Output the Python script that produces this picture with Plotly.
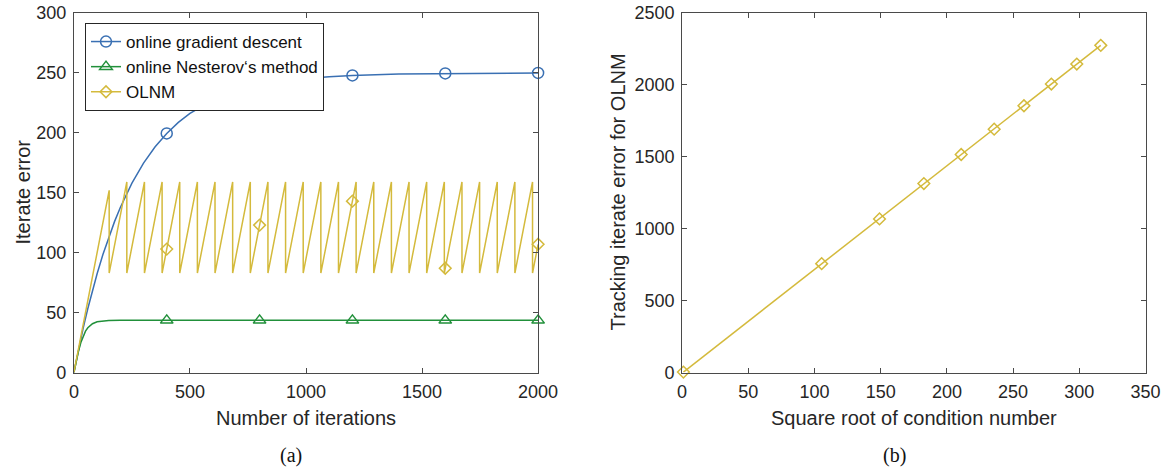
import plotly.graph_objects as go

# ---------------- data: panel (a) ----------------
ogd_iter = [0, 20, 40, 60, 80, 100, 125, 150, 175, 200, 250, 300, 350, 400, 450, 500,
            600, 700, 800, 900, 1000, 1100, 1200, 1400, 1600, 1800, 2000]
ogd_err = [0, 19.2, 37.0, 53.4, 68.5, 82.4, 98.4, 112.8, 125.9, 137.7, 158.0, 174.7, 188.4,
           199.5, 208.7, 216.2, 227.3, 234.8, 239.8, 243.2, 245.4, 246.9, 247.9, 249.1,
           249.6, 249.8, 250.0]

onm_iter = [0, 10, 20, 30, 40, 50, 60, 70, 80, 100, 125, 150, 200, 400, 800, 1200, 1600, 2000]
onm_err = [0, 9.5, 18.0, 25.0, 30.5, 34.5, 37.3, 39.3, 40.7, 42.3, 43.1, 43.4, 43.5,
           43.5, 43.5, 43.5, 43.5, 43.5]

# OLNM restarts: iterate where error peaks, peak value, value right after restart
olnm_restart_iter = [152, 228, 304, 380, 456, 532, 608, 684, 760, 836, 912, 988, 1064,
                     1140, 1216, 1292, 1368, 1444, 1520, 1596, 1672, 1748, 1824, 1900, 1976]
olnm_peak_err = [152, 159, 159, 159, 159, 159, 159, 159, 159, 159, 159, 159, 159,
                 159, 159, 159, 159, 159, 159, 159, 159, 159, 159, 159, 159]
olnm_reset_err = [83, 83, 83, 83, 83, 83, 83, 83, 83, 83, 83, 83, 83,
                  83, 83, 83, 83, 83, 83, 83, 83, 83, 83, 83, 83]
olnm_start = (0, 0)
olnm_end = (2000, 107)

marker_iter = [400, 800, 1200, 1600, 2000]
ogd_marker_err = [199.5, 239.8, 247.9, 249.6, 250.0]
onm_marker_err = [43.5, 43.5, 43.5, 43.5, 43.5]
olnm_marker_err = [103, 123, 143, 87, 107]

# ---------------- data: panel (b) ----------------
sqrt_cond = [1, 105.4, 149.1, 182.6, 210.8, 235.7, 258.2, 278.9, 298.1, 316.2]
track_err = [3, 757, 1068, 1314, 1516, 1692, 1855, 2006, 2145, 2275]

# ---------------- styling ----------------
W, H = 1165, 467
BLUE = "#3A70B3"
GREEN = "#21903A"
YELLOW = "#D4BA3C"
AXC = "#4a4a4a"
TXT = "#262626"
FONT = "Liberation Sans, Arial, Helvetica, sans-serif"


def fx(p):
    return p / W


def fy(p):
    return 1 - p / H


# build OLNM sawtooth vertices from the restart table
olnm_x = [olnm_start[0]]
olnm_y = [olnm_start[1]]
for it, pk, rs in zip(olnm_restart_iter, olnm_peak_err, olnm_reset_err):
    olnm_x += [it, it]
    olnm_y += [pk, rs]
olnm_x.append(olnm_end[0])
olnm_y.append(olnm_end[1])

fig = go.Figure()

LW = 1.5
MS = 11

# panel (a) lines
fig.add_trace(go.Scatter(x=ogd_iter, y=ogd_err, mode="lines", line=dict(color=BLUE, width=LW),
                         showlegend=False, xaxis="x", yaxis="y"))
fig.add_trace(go.Scatter(x=onm_iter, y=onm_err, mode="lines", line=dict(color=GREEN, width=LW),
                         showlegend=False, xaxis="x", yaxis="y"))
fig.add_trace(go.Scatter(x=olnm_x, y=olnm_y, mode="lines", line=dict(color=YELLOW, width=LW),
                         showlegend=False, xaxis="x", yaxis="y"))
# panel (a) markers
fig.add_trace(go.Scatter(x=marker_iter, y=ogd_marker_err, mode="markers", cliponaxis=False,
                         marker=dict(symbol="circle-open", size=MS, color=BLUE, line=dict(width=1.5, color=BLUE)),
                         showlegend=False, xaxis="x", yaxis="y"))
fig.add_trace(go.Scatter(x=marker_iter, y=onm_marker_err, mode="markers", cliponaxis=False,
                         marker=dict(symbol="triangle-up-open", size=MS, color=GREEN, line=dict(width=1.5, color=GREEN)),
                         showlegend=False, xaxis="x", yaxis="y"))
fig.add_trace(go.Scatter(x=marker_iter, y=olnm_marker_err, mode="markers", cliponaxis=False,
                         marker=dict(symbol="diamond-open", size=MS - 2, color=YELLOW, line=dict(width=1.5, color=YELLOW)),
                         showlegend=False, xaxis="x", yaxis="y"))
# legend entries
fig.add_trace(go.Scatter(x=[None], y=[None], mode="lines+markers", name="online gradient descent",
                         line=dict(color=BLUE, width=LW),
                         marker=dict(symbol="circle-open", size=MS, color=BLUE, line=dict(width=1.5, color=BLUE)),
                         xaxis="x", yaxis="y"))
fig.add_trace(go.Scatter(x=[None], y=[None], mode="lines+markers", name="online Nesterov‘s method",
                         line=dict(color=GREEN, width=LW),
                         marker=dict(symbol="triangle-up-open", size=MS, color=GREEN, line=dict(width=1.5, color=GREEN)),
                         xaxis="x", yaxis="y"))
fig.add_trace(go.Scatter(x=[None], y=[None], mode="lines+markers", name="OLNM",
                         line=dict(color=YELLOW, width=LW),
                         marker=dict(symbol="diamond-open", size=MS - 2, color=YELLOW, line=dict(width=1.5, color=YELLOW)),
                         xaxis="x", yaxis="y"))

# panel (b)
fig.add_trace(go.Scatter(x=sqrt_cond, y=track_err, mode="lines+markers", cliponaxis=False,
                         line=dict(color=YELLOW, width=LW),
                         marker=dict(symbol="diamond-open", size=MS - 2, color=YELLOW, line=dict(width=1.5, color=YELLOW)),
                         showlegend=False, xaxis="x2", yaxis="y2"))

axis_common = dict(showline=True, linecolor=AXC, linewidth=1, mirror="ticks", ticks="inside",
                   ticklen=5, tickwidth=1, tickcolor=AXC, showgrid=False, zeroline=False,
                   automargin=False, ticklabelstandoff=3,
                   tickfont=dict(family=FONT, size=18, color=TXT))

ydom = [fy(372.5), fy(13)]
fig.update_layout(
    width=W, height=H, margin=dict(l=0, r=0, t=0, b=0, pad=0, autoexpand=False),
    plot_bgcolor="white", paper_bgcolor="white",
    font=dict(family=FONT, size=18, color=TXT),
    xaxis=dict(domain=[fx(73.9), fx(538.1)], range=[0, 2000], tickvals=[0, 500, 1000, 1500, 2000],
               anchor="y", **axis_common),
    yaxis=dict(domain=ydom, range=[0, 300], tickvals=[0, 50, 100, 150, 200, 250, 300],
               anchor="x", **axis_common),
    xaxis2=dict(domain=[fx(682.1), fx(1145.5)], range=[0, 350],
                tickvals=[0, 50, 100, 150, 200, 250, 300, 350], anchor="y2", **axis_common),
    yaxis2=dict(domain=ydom, range=[0, 2500], tickvals=[0, 500, 1000, 1500, 2000, 2500],
                anchor="x2", **axis_common),
    legend=dict(x=fx(85), y=fy(23), xanchor="left", yanchor="top", bgcolor="white",
                bordercolor="#262626", borderwidth=1, font=dict(family=FONT, size=17, color="#111111"),
                tracegroupgap=0, itemwidth=30),
    annotations=[
        dict(text="Number of iterations", x=fx(306), y=fy(418), xref="paper", yref="paper",
             showarrow=False, xanchor="center", yanchor="middle", font=dict(family=FONT, size=20, color=TXT)),
        dict(text="Iterate error", x=fx(22), y=fy(192.5), xref="paper", yref="paper", textangle=-90,
             showarrow=False, xanchor="center", yanchor="middle", font=dict(family=FONT, size=20, color=TXT)),
        dict(text="Square root of condition number", x=fx(914), y=fy(418), xref="paper", yref="paper",
             showarrow=False, xanchor="center", yanchor="middle", font=dict(family=FONT, size=20, color=TXT)),
        dict(text="Tracking iterate error for OLNM", x=fx(617), y=fy(192.5), xref="paper", yref="paper",
             textangle=-90, showarrow=False, xanchor="center", yanchor="middle",
             font=dict(family=FONT, size=20, color=TXT)),
        dict(text="(a)", x=fx(291), y=fy(455), xref="paper", yref="paper", showarrow=False,
             xanchor="center", yanchor="middle", font=dict(family="Liberation Serif, serif", size=20, color="#111111")),
        dict(text="(b)", x=fx(894.5), y=fy(455), xref="paper", yref="paper", showarrow=False,
             xanchor="center", yanchor="middle", font=dict(family="Liberation Serif, serif", size=20, color="#111111")),
    ],
)

fig.write_html("out.html", config={"displayModeBar": False},
               post_script="document.body.style.margin='0';document.body.style.overflow='hidden';")
